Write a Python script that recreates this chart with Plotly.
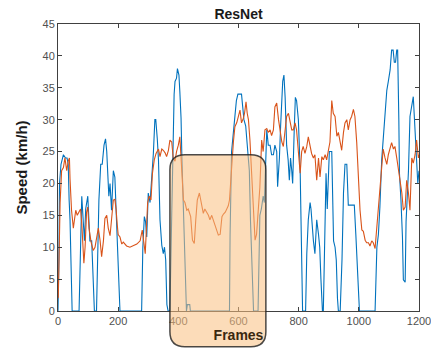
import plotly.graph_objects as go

# ---- data ----
blue_frames = [0, 3, 5, 10, 18, 25, 30, 34, 37, 40, 43, 45, 47, 70, 73, 79, 84, 88, 92, 96, 99, 103, 106, 112, 117, 121,
               128, 132, 136, 142, 147, 153, 158, 162, 165, 169, 173, 178, 184, 189, 193, 197, 203, 206,
               278, 282, 287, 291, 295, 300, 306, 311, 317, 322, 325, 330, 334, 339, 345, 350, 354, 358, 362, 366,
               372, 378, 381, 384, 386, 389, 394, 397, 402, 405, 409, 412, 417, 422, 427, 430, 438, 440,
               570, 572, 577, 583, 588, 593, 598, 610, 614, 618, 624, 628, 632, 636, 640, 646, 650,
               665, 668, 671, 676, 682, 686, 690, 694, 699, 705, 710, 716, 721, 727, 730, 736, 740, 744, 747, 751,
               755, 760, 765, 769, 773, 777, 780, 785, 789, 793, 799, 805, 810, 813, 823, 827, 832, 838, 841, 845,
               849, 854, 860, 866, 870, 874, 879, 882, 885, 891, 895, 902, 910, 913, 916, 921, 925, 929, 932, 938,
               944, 949, 954, 960, 965, 975, 985, 990, 996, 1002, 1054, 1057, 1060, 1065, 1070, 1076, 1085, 1093,
               1098, 1104, 1109, 1114, 1118, 1122, 1126, 1129, 1133, 1135, 1140, 1145, 1148, 1154, 1157, 1160,
               1165, 1170, 1176, 1181, 1185, 1189, 1196, 1200]
blue_speed = [0, 8, 20, 23, 24.5, 24, 24, 23, 17.4, 14.3, 8, 3, 0, 0, 6, 18, 14, 11, 16, 17, 18, 14, 11, 11, 4, 0,
              0, 10, 17.4, 23, 23, 26, 27, 25, 21.6, 18, 20, 15.8, 22, 21, 16, 11, 6, 0,
              0, 10, 14.8, 14, 11.6, 18.5, 17, 20.5, 24.7, 30, 30, 27, 23.7, 14.3, 10.3, 9, 10, 8, 1, 0,
              0, 15, 24.7, 30, 34, 36, 36.5, 38, 37, 34.4, 30.3, 23.7, 14.3, 6, 0, 1, 1, 0,
              0, 12, 25, 28, 30, 33, 34, 34, 32, 30, 29, 27, 24, 22, 14, 5, 0,
              0, 10, 15, 16, 18, 17, 23.7, 28.4, 26, 26, 24.5, 24.5, 26, 25, 19.5, 24, 29, 32.5, 36, 37,
              33.5, 26, 23.7, 20.5, 24, 22, 20, 28, 33.5, 33, 30, 22, 9, 0, 0, 9, 14.3, 17, 16, 13,
              11, 9, 14.3, 12, 10, 5, 0, 0, 9, 21.6, 16, 25, 25, 18, 11, 10, 8, 2, 0, 0,
              8, 18.5, 23, 23, 16.6, 16.6, 16.6, 12, 5, 0, 0, 4, 10, 12, 16.3, 23.7, 30, 34.6,
              36, 37.8, 40.9, 40.9, 39, 39, 40.9, 40.9, 30, 21.6, 17.4, 11.6, 4.9, 4.5, 14, 16.6,
              22, 30.5, 32, 33.6, 30, 25.8, 20, 22]

orange_frames = [0, 1, 3, 7, 12, 18, 23, 29, 34, 38, 40, 45, 51, 55, 59, 64, 70, 75, 79, 82, 86, 90, 95, 99, 103,
                 110, 117, 123, 128, 134, 140, 145, 151, 156, 162, 167, 173, 178, 184, 189, 193, 197, 200, 206,
                 212, 217, 228, 239, 250, 262, 273, 280, 286, 290, 293, 298, 303, 309, 314, 320, 326, 334, 339,
                 345, 350, 356, 361, 367, 372, 378, 383, 389, 394, 400, 405, 411, 417, 422, 428, 433, 441, 447,
                 453, 458, 463, 470, 476, 483, 488, 494, 500, 505, 511, 516, 522, 527, 533, 539, 545, 550, 556,
                 561, 566, 570, 577, 583, 588, 594, 599, 605, 610, 616, 620, 625, 629, 633, 638, 643, 649, 655,
                 660, 666, 671, 677, 682, 688, 694, 699, 705, 710, 716, 721, 727, 733, 738, 744, 749, 755, 760,
                 766, 771, 777, 782, 788, 793, 799, 805, 810, 815, 821, 827, 832, 838, 843, 849, 854, 860, 866,
                 871, 877, 882, 888, 893, 899, 904, 910, 915, 921, 927, 932, 937, 943, 949, 954, 960, 965, 971,
                 976, 982, 987, 993, 998, 1004, 1010, 1015, 1021, 1026, 1032, 1037, 1043, 1048, 1054, 1060,
                 1065, 1070, 1076, 1081, 1087, 1093, 1098, 1104, 1109, 1115, 1120, 1126, 1131, 1137, 1143, 1148,
                 1154, 1159, 1165, 1170, 1176, 1181, 1187, 1192, 1198, 1200]
orange_speed = [2, 2.2, 7, 17, 22, 22.5, 24, 22, 23.5, 24, 20.7, 15.8, 13, 14.5, 15.8, 15, 15.5, 16, 13.7, 10, 7.5,
                10, 15.5, 16.3, 13, 10.8, 9.5, 10, 11.5, 13, 11, 8.5, 11, 14.5, 15, 13, 11.8, 14, 17.4, 17.5, 16,
                13.5, 12, 11.6, 10.5, 10.8, 10.2, 10, 10.2, 10.5, 11, 12.7, 10.5, 9, 12, 17, 18, 17.4, 21.6, 23.7,
                24.7, 25.4, 24.2, 25.4, 25.2, 24.8, 24.2, 25.2, 26.8, 26.5, 24, 23.5, 25, 26, 27.3, 22, 17.4, 17,
                15.8, 16, 14.8, 11.1, 10.6, 14.3, 17.4, 18.5, 16.9, 15.3, 16, 15.5, 15, 14.3, 15, 14.3, 13.5, 12.7,
                11.9, 12, 14.8, 15.2, 15.5, 16, 16.5, 17.4, 23.2, 26.5, 28.9, 29.5, 30.4, 31.5, 29.5, 30.2, 31,
                32.8, 31, 30, 26.8, 21.6, 14.8, 11.1, 12, 15.3, 19.4, 26.8, 25, 28.4, 28.6, 28, 28.4, 27.5, 28.4,
                32, 32.6, 30, 28.4, 26.5, 25.8, 28, 30.5, 31, 29.5, 28.4, 28.4, 29.5, 28.4, 24.2, 21.6, 25, 25.8,
                24.7, 25.8, 27.3, 25.8, 24.7, 24, 24.5, 20.5, 24, 21, 24.2, 23.7, 24.5, 23.7, 25.2, 26.5, 33, 31,
                30.5, 27.4, 28, 26.4, 25.2, 28, 29.5, 30, 28.4, 30, 30.5, 31.6, 30.5, 26.4, 20.5, 15.8, 12.7,
                12.5, 11.1, 10.7, 10.7, 10.2, 11, 10.7, 9.8, 13.2, 17.4, 20, 23.5, 25.4, 24, 23, 24.5, 25.4, 26.4,
                25.4, 25.8, 24, 22.5, 20.5, 18.5, 15.8, 16.3, 20.5, 18.5, 15.8, 24, 23.2, 24.5, 26.8, 24, 24.5]

x_ticks = [0, 200, 400, 600, 800, 1000, 1200]
y_ticks = [0, 5, 10, 15, 20, 25, 30, 35, 40, 45]
x_range = [0, 1200]
y_range = [0, 45]

# highlighted region (data units)
box_frames = [372, 691]
box_speed = [-5.6, 24.5]

# ---- layout geometry ----
W, H = 431, 351
ML, MR, MT, MB = 58, 12, 24, 40
PW, PH = W - ML - MR, H - MT - MB

fig = go.Figure()
fig.add_trace(go.Scatter(x=blue_frames, y=blue_speed, mode="lines",
                         line=dict(color="#0072BD", width=1.1), showlegend=False))
fig.add_trace(go.Scatter(x=orange_frames, y=orange_speed, mode="lines",
                         line=dict(color="#D95319", width=1.1), showlegend=False))

# rounded rectangle in paper coords
x0 = (box_frames[0] - x_range[0]) / (x_range[1] - x_range[0])
x1 = (box_frames[1] - x_range[0]) / (x_range[1] - x_range[0])
y0 = (box_speed[0] - y_range[0]) / (y_range[1] - y_range[0])
y1 = (box_speed[1] - y_range[0]) / (y_range[1] - y_range[0])
r = 15
rx, ry = r / PW, r / PH
path = (f"M {x0+rx},{y1} L {x1-rx},{y1} Q {x1},{y1} {x1},{y1-ry} "
        f"L {x1},{y0+ry} Q {x1},{y0} {x1-rx},{y0} "
        f"L {x0+rx},{y0} Q {x0},{y0} {x0},{y0+ry} "
        f"L {x0},{y1-ry} Q {x0},{y1} {x0+rx},{y1} Z")
fig.add_shape(type="path", path=path, xref="paper", yref="paper", layer="above",
              fillcolor="rgba(250,192,128,0.55)",
              line=dict(color="rgba(30,30,30,0.8)", width=1.5))

axis_common = dict(showline=True, mirror="ticks", ticks="inside", ticklen=4,
                   linecolor="#404040", tickcolor="#404040", linewidth=1,
                   showgrid=False, zeroline=False, ticklabeloverflow="allow", automargin=False,
                   tickfont=dict(family="Liberation Sans, Arial", size=11, color="#505050"))

fig.update_layout(
    width=W, height=H,
    margin=dict(l=ML, r=MR, t=MT, b=MB),
    paper_bgcolor="white", plot_bgcolor="white",
    title=dict(text="<b>ResNet</b>", x=(ML + PW / 2) / W, xanchor="center", y=1 - 14 / H, yanchor="middle",
               font=dict(family="Liberation Sans, Arial", size=14, color="#1a1a1a")),
    xaxis=dict(range=x_range, tickvals=x_ticks, **axis_common,
               title=dict(text="<b>Frames</b>", standoff=2,
                          font=dict(family="Liberation Sans, Arial", size=14, color="#3a2810"))),
    yaxis=dict(range=y_range, tickvals=y_ticks, **axis_common,
               title=dict(text="<b>Speed (km/h)</b>", standoff=11,
                          font=dict(family="Liberation Sans, Arial", size=15, color="#1a1a1a"))),
)

fig.write_html("out.html")
